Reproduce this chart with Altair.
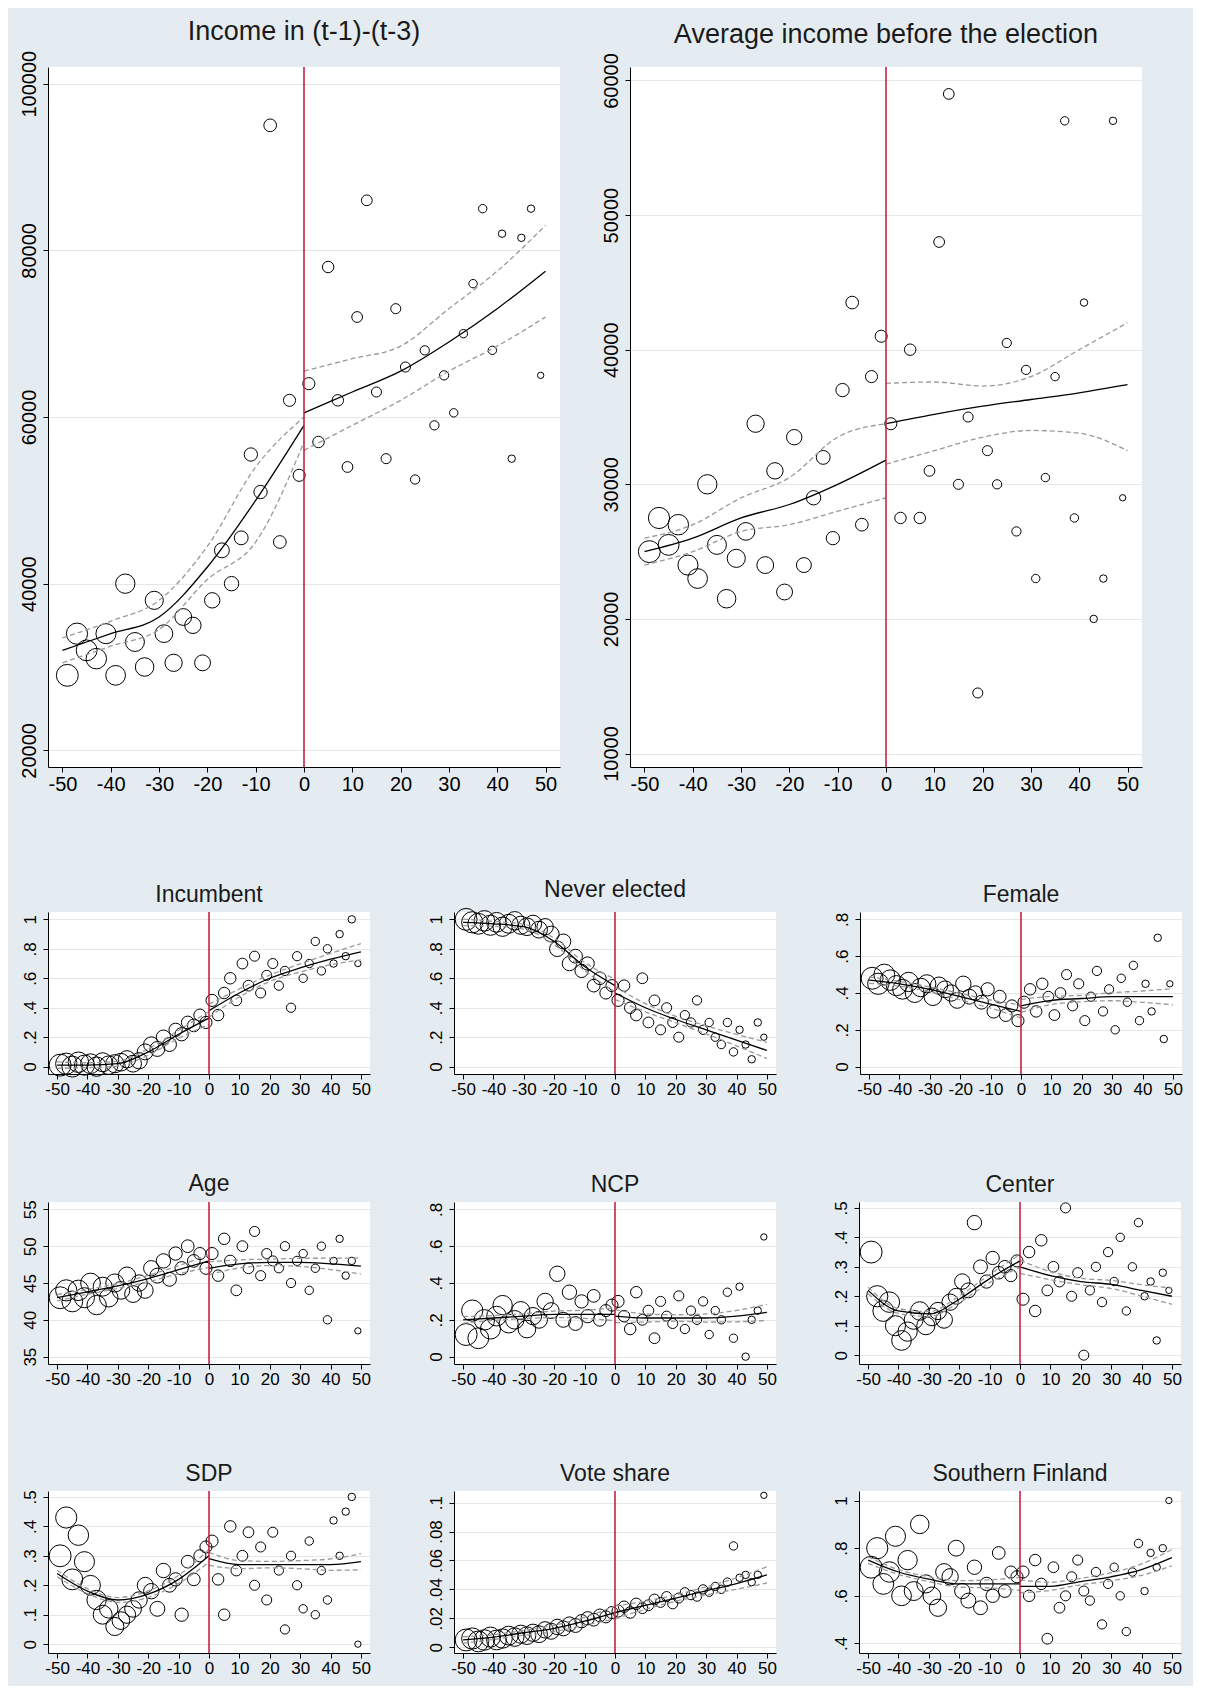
import altair as alt
import pandas as pd

# bin midpoints (running variable) and bin weights
xs = list(range(-49, 0, 2)) + list(range(1, 50, 2))
weights = [30, 28, 27, 26, 25, 24, 23, 22, 21, 20, 19, 18, 17, 16, 15, 14, 13, 12, 11, 10, 10, 9, 9, 8, 8,
           8, 7, 7, 7, 6, 6, 6, 5, 5, 5, 5, 4, 4, 4, 4, 3, 3, 3, 3, 3, 2, 2, 2, 2, 1]
fit_x_left = [-50, -40, -30, -20, -10, 0]
fit_x_right = [0, 10, 20, 30, 40, 50]

income_y = [29000, 34000, 32000, 31000, 34000, 29000, 40000, 33000, 30000, 38000, 34000, 30500, 36000,
            35000, 30500, 38000, 44000, 40000, 45500, 55500, 51000, 95000, 45000, 62000, 53000,
            64000, 57000, 78000, 62000, 54000, 72000, 86000, 63000, 55000, 73000, 66000, 52500, 68000,
            59000, 65000, 60500, 70000, 76000, 85000, 68000, 82000, 55000, 81500, 85000, 65000]
income_fit = [32000, 34000, 36000, 42000, 50000, 59000], [60500, 63000, 65500, 69000, 73000, 77500]
income_hi = [33500, 35500, 38000, 44500, 54000, 60000], [65500, 67000, 68500, 73000, 77500, 83000]
income_lo = [30500, 32500, 34500, 40500, 45000, 57000], [56000, 59000, 62000, 65500, 68500, 72000]

avg_y = [25000, 27500, 25500, 27000, 24000, 23000, 30000, 25500, 21500, 24500, 26500, 34500, 24000,
         31000, 22000, 33500, 24000, 29000, 32000, 26000, 37000, 43500, 27000, 38000, 41000,
         34500, 27500, 40000, 27500, 31000, 48000, 59000, 30000, 35000, 14500, 32500, 30000, 40500,
         26500, 38500, 23000, 30500, 38000, 57000, 27500, 43500, 20000, 23000, 57000, 29000]
avg_fit = [25000, 26000, 27500, 28500, 30000, 31800], [34500, 35200, 35800, 36300, 36800, 37400]
avg_hi = [26000, 27000, 29000, 30500, 33500, 34500], [37500, 37600, 37300, 38000, 40000, 42000]
avg_lo = [24000, 25000, 26500, 27000, 28000, 29000], [31500, 32500, 33500, 34000, 33800, 32500]

inc_y = [0.01, 0.02, 0, 0.03, 0.01, 0.02, 0, 0.03, 0.01, 0.02, 0.03, 0.05, 0.02,
         0.04, 0.1, 0.15, 0.12, 0.2, 0.15, 0.25, 0.22, 0.3, 0.28, 0.35, 0.3,
         0.45, 0.35, 0.5, 0.6, 0.45, 0.7, 0.55, 0.75, 0.5, 0.62, 0.7, 0.55, 0.65, 0.4, 0.75,
         0.6, 0.7, 0.85, 0.65, 0.8, 0.7, 0.9, 0.75, 1.0, 0.7]
inc_fit = [0.01, 0.01, 0.02, 0.1, 0.22, 0.33], [0.38, 0.5, 0.6, 0.67, 0.73, 0.78]

nev_y = [1.0, 0.98, 0.97, 0.99, 0.96, 0.98, 0.95, 0.97, 0.99, 0.96, 0.95, 0.97, 0.93,
         0.95, 0.9, 0.8, 0.85, 0.7, 0.75, 0.65, 0.7, 0.55, 0.6, 0.5, 0.55,
         0.45, 0.55, 0.4, 0.35, 0.6, 0.3, 0.45, 0.25, 0.4, 0.3, 0.2, 0.35, 0.3, 0.45, 0.25,
         0.3, 0.2, 0.15, 0.3, 0.1, 0.25, 0.15, 0.05, 0.3, 0.2]
nev_fit = [0.98, 0.97, 0.95, 0.85, 0.68, 0.55], [0.5, 0.4, 0.32, 0.25, 0.18, 0.11]

fem_y = [0.48, 0.45, 0.5, 0.47, 0.44, 0.42, 0.46, 0.4, 0.43, 0.45, 0.38, 0.44, 0.42,
         0.4, 0.36, 0.45, 0.38, 0.4, 0.35, 0.42, 0.3, 0.38, 0.28, 0.33, 0.25,
         0.35, 0.42, 0.3, 0.45, 0.38, 0.28, 0.4, 0.5, 0.33, 0.45, 0.25, 0.38, 0.52, 0.3, 0.42,
         0.2, 0.48, 0.35, 0.55, 0.25, 0.45, 0.3, 0.7, 0.15, 0.45]
fem_fit = [0.47, 0.45, 0.42, 0.38, 0.34, 0.3], [0.33, 0.36, 0.37, 0.38, 0.38, 0.38]

age_y = [43, 44, 42.5, 44, 43, 45, 42, 44.5, 43, 45, 44, 46, 43.5,
         45, 44, 47, 46, 48, 45.5, 49, 47, 50, 48, 49,
         47, 49, 46, 51, 48, 44, 50, 47, 52, 46, 49, 48, 47, 50, 45,
         48, 49, 44, 47, 50, 40, 48, 51, 46, 48, 38.5][:50]
age_fit = [43, 43.8, 44.6, 45.6, 46.8, 48], [47, 47.6, 47.8, 47.8, 47.6, 47.3]

ncp_y = [0.12, 0.25, 0.1, 0.2, 0.15, 0.22, 0.28, 0.18, 0.2, 0.25, 0.15, 0.22, 0.2,
         0.3, 0.25, 0.45, 0.2, 0.35, 0.18, 0.3, 0.22, 0.33, 0.2, 0.25, 0.28,
         0.3, 0.22, 0.15, 0.35, 0.2, 0.25, 0.1, 0.3, 0.22, 0.18, 0.33, 0.15, 0.25, 0.2, 0.3,
         0.12, 0.25, 0.2, 0.35, 0.1, 0.38, 0.0, 0.2, 0.25, 0.65]
ncp_fit = [0.2, 0.21, 0.22, 0.23, 0.23, 0.23], [0.22, 0.21, 0.21, 0.21, 0.22, 0.24]

cen_y = [0.35, 0.2, 0.15, 0.18, 0.1, 0.05, 0.08, 0.12, 0.15, 0.1, 0.13, 0.15, 0.12,
         0.18, 0.2, 0.25, 0.22, 0.45, 0.3, 0.25, 0.33, 0.28, 0.3, 0.27, 0.32,
         0.19, 0.35, 0.15, 0.39, 0.22, 0.3, 0.25, 0.5, 0.2, 0.28, 0.0, 0.22, 0.3, 0.18, 0.35,
         0.25, 0.4, 0.15, 0.3, 0.45, 0.2, 0.25, 0.05, 0.28, 0.22]
cen_fit = [0.22, 0.15, 0.14, 0.19, 0.26, 0.32], [0.3, 0.27, 0.25, 0.24, 0.22, 0.2]

sdp_y = [0.3, 0.43, 0.22, 0.37, 0.28, 0.2, 0.15, 0.1, 0.12, 0.06, 0.08, 0.1, 0.12,
         0.15, 0.2, 0.18, 0.12, 0.25, 0.2, 0.22, 0.1, 0.28, 0.22, 0.3, 0.33,
         0.35, 0.22, 0.1, 0.4, 0.25, 0.3, 0.38, 0.2, 0.33, 0.15, 0.38, 0.25, 0.05, 0.3, 0.2,
         0.12, 0.35, 0.1, 0.25, 0.15, 0.42, 0.3, 0.45, 0.5, 0.0]
sdp_fit = [0.24, 0.18, 0.15, 0.17, 0.22, 0.3], [0.29, 0.27, 0.27, 0.27, 0.27, 0.28]

vote_y = [0.005, 0.006, 0.004, 0.005, 0.007, 0.005, 0.006, 0.008, 0.007, 0.009, 0.008, 0.01, 0.009,
          0.012, 0.011, 0.014, 0.013, 0.016, 0.015, 0.018, 0.02, 0.019, 0.022, 0.021, 0.024,
          0.025, 0.028, 0.024, 0.03, 0.027, 0.029, 0.033, 0.031, 0.035, 0.03, 0.034, 0.038, 0.036,
          0.035, 0.04, 0.038, 0.042, 0.04, 0.045, 0.07, 0.048, 0.05, 0.045, 0.05, 0.105]
vote_fit = [0.005, 0.007, 0.01, 0.013, 0.018, 0.024], [0.024, 0.029, 0.034, 0.039, 0.044, 0.05]

south_y = [0.72, 0.8, 0.65, 0.7, 0.85, 0.6, 0.75, 0.62, 0.9, 0.65, 0.6, 0.55, 0.7,
           0.68, 0.8, 0.62, 0.58, 0.72, 0.55, 0.65, 0.6, 0.78, 0.62, 0.7, 0.68,
           0.7, 0.6, 0.75, 0.65, 0.42, 0.72, 0.55, 0.6, 0.68, 0.75, 0.62, 0.58, 0.7, 0.48, 0.65,
           0.72, 0.6, 0.45, 0.7, 0.82, 0.62, 0.78, 0.72, 0.8, 1.0]
south_fit = [0.75, 0.7, 0.67, 0.65, 0.65, 0.65], [0.64, 0.64, 0.66, 0.68, 0.71, 0.76]

# CI half widths (left side, right side) as share of the axis range
ci_small = [0.02, 0.015, 0.015, 0.02, 0.025, 0.04], [0.04, 0.025, 0.02, 0.025, 0.035, 0.05]

FONT = "Liberation Sans"
RED = "#c0143c"
FRAC_LABELS = "datum.value == 0 ? '0' : (datum.value >= 1 ? '' + datum.value : substring(format(datum.value, '.2~f'), 1))"
INT_LABELS = "'' + datum.value"


def panel(title, ys, fit, hi, lo, domain, ticks, w, h, fs, tfs, size_range, label_expr):
    pts = pd.DataFrame({"x": xs, "y": ys, "w": weights})
    rows = []
    for side, fx in ((0, fit_x_left), (1, fit_x_right)):
        for i, x in enumerate(fx):
            rows.append({"x": x, "side": side, "fit": fit[side][i],
                         "hi": hi[side][i], "lo": lo[side][i]})
    fits = pd.DataFrame(rows)
    xax = alt.Axis(values=list(range(-50, 51, 10)), grid=False, labelFontSize=fs, labelFont=FONT,
                   labelColor="black", domainColor="black", tickColor="black", labelOverlap=False,
                   labelPadding=2, labelExpr=INT_LABELS)
    yax = alt.Axis(values=ticks, grid=True, gridColor="#e6e6e6", labelAngle=-90, labelFontSize=fs,
                   labelFont=FONT, labelColor="black", domainColor="black", tickColor="black",
                   labelAlign="center", labelBaseline="bottom", labelPadding=4, labelOverlap=False,
                   labelExpr=label_expr)
    X = alt.X("x:Q", scale=alt.Scale(domain=[-53, 53], nice=False), axis=xax, title=None)
    ysc = alt.Scale(domain=domain, nice=False, zero=False)

    def Y(field):
        return alt.Y(field, scale=ysc, axis=yax, title=None)

    scatter = alt.Chart(pts).mark_point(filled=False, color="black", strokeWidth=1, opacity=1).encode(
        x=X, y=Y("y:Q"),
        size=alt.Size("w:Q", scale=alt.Scale(range=size_range), legend=None))
    base = alt.Chart(fits).encode(x=X, detail="side:N")
    line = base.mark_line(color="black", strokeWidth=1.3, interpolate="monotone").encode(y=Y("fit:Q"))
    up = base.mark_line(color="#999999", strokeDash=[5, 3], strokeWidth=1.3,
                        interpolate="monotone").encode(y=Y("hi:Q"))
    dn = base.mark_line(color="#999999", strokeDash=[5, 3], strokeWidth=1.3,
                        interpolate="monotone").encode(y=Y("lo:Q"))
    rule = alt.Chart(pd.DataFrame({"x": [0]})).mark_rule(color=RED, strokeWidth=1.5).encode(x=X)
    return (scatter + up + dn + line + rule).properties(
        width=w, height=h,
        title=alt.TitleParams(title, fontSize=tfs, font=FONT, fontWeight="normal", color="#1a1a1a", offset=4))


def small(title, ys, fit, domain, ticks, label_expr=FRAC_LABELS):
    span = domain[1] - domain[0]
    hi = tuple([f + c * span for f, c in zip(fit[s], ci_small[s])] for s in (0, 1))
    lo = tuple([f - c * span for f, c in zip(fit[s], ci_small[s])] for s in (0, 1))
    return panel(title, ys, fit, hi, lo, domain, ticks, 322, 162, 17, 23, [12, 220], label_expr)


top = alt.hconcat(
    panel("Income in (t-1)-(t-3)", income_y, income_fit, income_hi, income_lo, [18000, 102000],
          [20000, 40000, 60000, 80000, 100000], 512, 700, 20, 27, [25, 480], INT_LABELS),
    panel("Average income before the election", avg_y, avg_fit, avg_hi, avg_lo, [9000, 61000],
          [10000, 20000, 30000, 40000, 50000, 60000], 512, 700, 20, 27, [25, 480], INT_LABELS),
    spacing=40)

fr = [0, 0.2, 0.4, 0.6, 0.8, 1]
row1 = alt.hconcat(small("Incumbent", inc_y, inc_fit, [-0.05, 1.05], fr),
                   small("Never elected", nev_y, nev_fit, [-0.05, 1.05], fr),
                   small("Female", fem_y, fem_fit, [-0.04, 0.84], [0, 0.2, 0.4, 0.6, 0.8]), spacing=55)
row2 = alt.hconcat(small("Age", age_y, age_fit, [34, 56], [35, 40, 45, 50, 55], INT_LABELS),
                   small("NCP", ncp_y, ncp_fit, [-0.04, 0.84], [0, 0.2, 0.4, 0.6, 0.8]),
                   small("Center", cen_y, cen_fit, [-0.03, 0.52], [0, 0.1, 0.2, 0.3, 0.4, 0.5]), spacing=55)
row3 = alt.hconcat(small("SDP", sdp_y, sdp_fit, [-0.03, 0.52], [0, 0.1, 0.2, 0.3, 0.4, 0.5]),
                   small("Vote share", vote_y, vote_fit, [-0.004, 0.108], [0, 0.02, 0.04, 0.06, 0.08, 0.1]),
                   small("Southern Finland", south_y, south_fit, [0.36, 1.04], [0.4, 0.6, 0.8, 1.0]), spacing=55)

chart = alt.vconcat(top, alt.vconcat(row1, row2, row3, spacing=75), spacing=85).configure(
    background="#e4ecf1", padding=10
).configure_view(stroke=None, fill="white").configure_axis(tickSize=5)

chart.save("out.html", embed_options={"renderer": "svg", "actions": False})
